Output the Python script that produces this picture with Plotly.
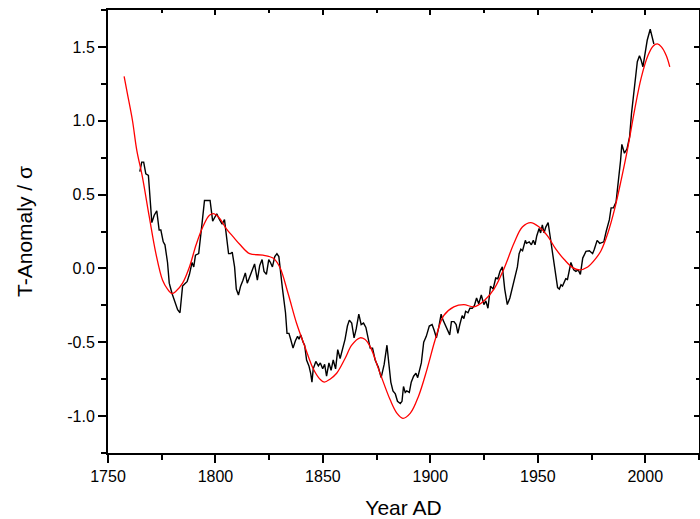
import plotly.graph_objects as go

# black series: reconstructed annual anomaly
years = [
    1764.8, 1765.7, 1766.6, 1767.6, 1768.8, 1770.4, 1771.5, 1772.7, 1773.8, 1774.6,
    1775.7, 1776.5, 1777.7, 1778.5, 1779.8, 1781.2, 1782.4, 1783.5, 1784.7, 1786.0,
    1786.8, 1787.9, 1789.1, 1789.9, 1790.7, 1792.2, 1792.9, 1793.8, 1794.9, 1796.4,
    1797.5, 1798.7, 1800.0, 1800.6, 1801.9, 1803.1, 1804.2, 1805.0, 1806.1, 1807.0,
    1807.8, 1808.9, 1809.7, 1810.7, 1811.7, 1812.8, 1813.9, 1814.8, 1816.0, 1817.1,
    1818.2, 1819.5, 1820.6, 1821.7, 1822.6, 1823.7, 1824.8, 1825.6, 1826.5, 1827.6,
    1828.6, 1829.5, 1830.2, 1831.2, 1831.9, 1832.6, 1833.3, 1834.2, 1835.0, 1836.1,
    1837.2, 1838.2, 1838.9, 1839.7, 1840.8, 1841.5, 1842.4, 1843.5, 1844.3, 1844.9,
    1845.5, 1846.7, 1847.9, 1848.8, 1849.9, 1850.8, 1851.7, 1852.8, 1853.8, 1854.8,
    1855.9, 1856.9, 1858.0, 1859.2, 1860.3, 1861.4, 1862.3, 1863.4, 1864.5, 1865.5,
    1866.7, 1867.8, 1868.9, 1870.0, 1871.2, 1872.0, 1873.1, 1874.3, 1875.8, 1877.1,
    1878.5, 1879.8, 1880.8, 1881.6, 1882.6, 1883.7, 1884.7, 1886.0, 1886.8, 1887.5,
    1888.3, 1889.0, 1890.2, 1891.1, 1892.2, 1893.3, 1894.1, 1894.9, 1895.8, 1896.9,
    1898.1, 1899.5, 1900.8, 1901.8, 1902.8, 1903.9, 1905.0, 1905.9, 1907.0, 1908.0,
    1909.0, 1909.8, 1911.0, 1912.0, 1912.8, 1913.7, 1914.8, 1915.6, 1916.4, 1917.5,
    1918.4, 1919.5, 1920.5, 1921.5, 1922.5, 1923.7, 1924.9, 1925.8, 1926.8, 1928.0,
    1929.2, 1930.4, 1931.4, 1932.4, 1933.5, 1934.6, 1935.8, 1937.0, 1938.1, 1939.3,
    1940.5, 1941.3, 1942.1, 1942.9, 1943.6, 1944.2, 1944.7, 1946.0, 1947.0, 1947.9,
    1948.7, 1949.5, 1950.6, 1951.3, 1952.1, 1952.9, 1953.7, 1954.8, 1955.5, 1956.4,
    1957.4, 1958.4, 1959.2, 1960.0, 1960.8, 1961.5, 1962.3, 1963.0, 1963.8, 1964.6,
    1965.4, 1966.7, 1967.7, 1968.8, 1969.8, 1970.9, 1972.4, 1974.0, 1975.5, 1976.3,
    1977.6, 1978.8, 1980.7, 1981.8, 1983.3, 1984.1, 1985.2, 1986.4, 1987.5, 1988.5,
    1989.1, 1990.3, 1991.5, 1992.7, 1993.6, 1994.5, 1995.5, 1996.3, 1997.3, 1998.1,
    1998.9, 1999.8, 2000.9, 2002.3, 2003.1, 2004.0,
]
anomaly = [
    0.655, 0.72, 0.72, 0.64, 0.63, 0.31, 0.36, 0.39, 0.26, 0.26,
    0.18, 0.16, 0.04, -0.10, -0.17, -0.23, -0.28, -0.30, -0.12, -0.10,
    -0.09, -0.04, 0.04, 0.01, 0.09, 0.10, 0.18, 0.31, 0.46, 0.46,
    0.46, 0.32, 0.36, 0.37, 0.33, 0.30, 0.33, 0.23, 0.10, 0.10,
    0.11, 0.01, -0.14, -0.18, -0.12, -0.08, -0.03, -0.10, -0.05, -0.01,
    0.03, -0.08, 0.02, 0.06, -0.02, -0.04, 0.06, 0.04, 0.01, 0.08,
    0.10, 0.08, -0.03, -0.14, -0.22, -0.30, -0.44, -0.44, -0.48, -0.54,
    -0.49, -0.46, -0.48, -0.45, -0.50, -0.52, -0.62, -0.66, -0.71, -0.77,
    -0.68, -0.63, -0.66, -0.64, -0.68, -0.65, -0.73, -0.64, -0.69, -0.62,
    -0.68, -0.55, -0.61, -0.55, -0.48, -0.39, -0.35, -0.37, -0.47, -0.41,
    -0.31, -0.38, -0.37, -0.40, -0.48, -0.54, -0.54, -0.62, -0.67, -0.74,
    -0.65, -0.52, -0.66, -0.77, -0.83, -0.85, -0.90, -0.915, -0.90, -0.80,
    -0.84, -0.83, -0.84, -0.77, -0.73, -0.71, -0.74, -0.70, -0.64, -0.50,
    -0.46, -0.39, -0.38, -0.42, -0.47, -0.40, -0.31, -0.35, -0.39, -0.42,
    -0.45, -0.36, -0.36, -0.38, -0.44, -0.38, -0.32, -0.34, -0.29, -0.30,
    -0.27, -0.27, -0.25, -0.20, -0.24, -0.18, -0.245, -0.22, -0.27, -0.12,
    -0.14, -0.065, -0.07, -0.02, 0.01, -0.14, -0.245, -0.20, -0.14, -0.06,
    0.01, 0.10, 0.13, 0.12, 0.15, 0.19, 0.17, 0.18, 0.16, 0.19,
    0.16, 0.22, 0.27, 0.24, 0.295, 0.24, 0.28, 0.31, 0.24, 0.15,
    0.04, -0.075, -0.13, -0.14, -0.11, -0.12, -0.09, -0.07, -0.075, -0.02,
    0.04, -0.01, -0.02, -0.01, -0.04, 0.07, 0.115, 0.12, 0.10, 0.13,
    0.19, 0.17, 0.18, 0.25, 0.33, 0.41, 0.41, 0.45, 0.58, 0.73,
    0.84, 0.78, 0.81, 0.89, 1.05, 1.16, 1.29, 1.40, 1.44, 1.41,
    1.365, 1.45, 1.545, 1.62, 1.58, 1.52,
]

# red series: smooth fit
fit_years = [
    1757.5, 1759.0, 1761.4, 1763.4, 1766.0, 1769.2, 1772.3, 1775.4, 1777.7, 1779.8,
    1781.6, 1784.7, 1787.9, 1791.0, 1794.1, 1797.2, 1799.4, 1801.9, 1805.0, 1808.5,
    1811.5, 1815.9, 1822.1, 1826.8, 1829.9, 1833.8, 1837.7, 1841.6, 1845.5, 1848.6,
    1850.6, 1853.3, 1856.4, 1860.3, 1863.4, 1867.3, 1869.5, 1872.0, 1876.6, 1881.3,
    1884.4, 1887.2, 1890.7, 1894.5, 1898.5, 1902.3, 1906.2, 1910.9, 1915.6, 1920.2,
    1924.9, 1929.6, 1934.3, 1938.9, 1942.8, 1946.7, 1950.6, 1954.5, 1958.4, 1962.3,
    1966.2, 1969.3, 1973.2, 1977.1, 1979.4, 1982.6, 1985.7, 1988.8, 1991.9, 1995.0,
    1998.1, 2001.2, 2003.6, 2005.6, 2007.5, 2009.8, 2011.4,
]
fit_values = [
    1.30, 1.185, 1.00, 0.80, 0.62, 0.35, 0.10, -0.08, -0.14, -0.17,
    -0.155, -0.10, 0.01, 0.16, 0.28, 0.36, 0.37, 0.34, 0.27, 0.21,
    0.16, 0.10, 0.09, 0.07, 0.01, -0.17, -0.37, -0.53, -0.68, -0.75,
    -0.77, -0.75, -0.71, -0.61, -0.52, -0.47, -0.48, -0.53, -0.71, -0.89,
    -0.98, -1.015, -0.98, -0.865, -0.68, -0.48, -0.32, -0.26, -0.245, -0.26,
    -0.22, -0.14, 0.00, 0.17, 0.28, 0.31, 0.28, 0.22, 0.13, 0.06,
    0.005, -0.01, 0.01, 0.07, 0.12, 0.24, 0.40, 0.60, 0.82, 1.07,
    1.29, 1.44, 1.505, 1.52, 1.50, 1.44, 1.365,
]

# axis ticks
x_ticks = [1750, 1800, 1850, 1900, 1950, 2000]
x_labels = ["1750", "1800", "1850", "1900", "1950", "2000"]
y_ticks = [-1.0, -0.5, 0.0, 0.5, 1.0, 1.5]
y_labels = ["-1.0", "-0.5", "0.0", "0.5", "1.0", "1.5"]
x_range = [1750, 2025]
y_range = [-1.25, 1.75]

font = "Liberation Sans, Arial, sans-serif"

fig = go.Figure()
fig.add_trace(go.Scatter(x=years, y=anomaly, mode="lines",
                         line=dict(color="black", width=1.4), showlegend=False))
fig.add_trace(go.Scatter(x=fit_years, y=fit_values, mode="lines",
                         line=dict(color="#ff0000", width=1.3, shape="spline"),
                         xaxis="x2", yaxis="y2", showlegend=False))

common = dict(showgrid=False, zeroline=False, showline=True, linecolor="black",
              linewidth=2, tickcolor="black", tickwidth=2, automargin=False)

fig.update_layout(
    width=700, height=519,
    margin=dict(l=108, r=1, t=10, b=66),
    paper_bgcolor="white", plot_bgcolor="white",
    font=dict(family=font, size=16, color="black"),
    xaxis=dict(range=x_range, tickvals=x_ticks, ticktext=x_labels,
               ticks="outside", ticklen=8,
               minor=dict(ticks="outside", ticklen=5, dtick=25, tick0=1750,
                          tickcolor="black", tickwidth=2),
               title=dict(text="Year AD", font=dict(size=21), standoff=16),
               **common),
    yaxis=dict(range=y_range, tickvals=y_ticks, ticktext=y_labels,
               ticks="outside", ticklen=8,
               minor=dict(ticks="outside", ticklen=5, dtick=0.25, tick0=0,
                          tickcolor="black", tickwidth=2),
               title=dict(text="T-Anomaly / σ", font=dict(size=21), standoff=29),
               **common),
    xaxis2=dict(range=x_range, overlaying="x", side="top", anchor="y2",
                tickvals=x_ticks, showticklabels=False, ticks="inside", ticklen=5,
                minor=dict(ticks="inside", ticklen=3, dtick=25, tick0=1750,
                           tickcolor="black", tickwidth=2),
                **common),
    yaxis2=dict(range=y_range, overlaying="y", side="right", anchor="x2",
                tickvals=y_ticks, showticklabels=False, ticks="inside", ticklen=5,
                minor=dict(ticks="inside", ticklen=3, dtick=0.25, tick0=0,
                           tickcolor="black", tickwidth=2),
                **common),
)

# drop the page's default body margin so the figure sits at the window corner
fig.write_html("out.html",
               config={"displayModeBar": False},
               post_script="document.body.style.margin='0';"
                           "document.body.style.overflow='hidden';")
